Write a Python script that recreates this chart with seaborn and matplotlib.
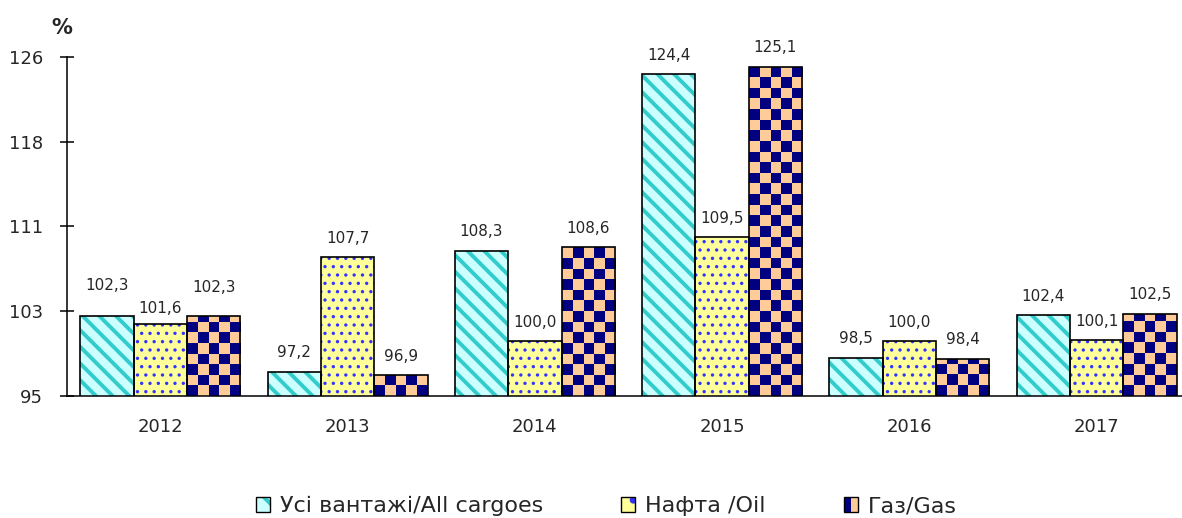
import numpy as np
import pandas as pd
import matplotlib
matplotlib.use("Agg")
import matplotlib.pyplot as plt
import seaborn as sns
from matplotlib.colors import ListedColormap
from matplotlib.patches import Patch
from matplotlib.legend_handler import HandlerTuple

# data
years = ["2012", "2013", "2014", "2015", "2016", "2017"]
series = ["Усі вантажі/All cargoes", "Нафта /Oil", "Газ/Gas"]
all_cargoes = [102.3, 97.2, 108.3, 124.4, 98.5, 102.4]
oil = [101.6, 107.7, 100.0, 109.5, 100.0, 100.1]
gas = [102.3, 96.9, 108.6, 125.1, 98.4, 102.5]
ytick_values = [95, 102.75, 110.5, 118.25, 126]
ytick_labels = ["95", "103", "111", "118", "126"]

# styles
bg_colors = ["#CCFFFF", "#FFFF99", "#FFCC99"]
hatch_colors = ["#33CCCC", "#3333FF", "#000080"]
hatches = ["\\\\", "..", None]
hatch_lws = [2.8, 1.2, None]
CHECK_PX = 10.6
YMIN, YMAX = 95, 126

sns.set_style("white")
plt.rcParams["font.family"] = ["DejaVu Sans"]
plt.rcParams["hatch.linewidth"] = 2.8

df = pd.DataFrame({
    "year": years * len(series),
    "value": all_cargoes + oil + gas,
    "series": [s for s in series for _ in years],
})

W, H = 1182, 518
fig = plt.figure(figsize=(W / 100, H / 100), dpi=100)
ax = fig.add_axes([66.75 / W, 1 - 396 / H, 1123.5 / W, 339 / H])

common = dict(data=df, x="year", y="value", hue="series", order=years,
              hue_order=series, width=0.855, gap=0, errorbar=None,
              legend=False, palette=bg_colors, saturation=1, ax=ax)
sns.barplot(**common, linewidth=0)
sns.barplot(**common, fill=False, linewidth=1.2)

ax.set_xlim(-0.5, 5.5)
ax.set_ylim(YMIN, YMAX)
px_x = ax.bbox.width / 6
px_y = ax.bbox.height / (YMAX - YMIN)

fill_conts = ax.containers[:3]
line_conts = ax.containers[3:6]

# patterned fills
for k, cont in enumerate(fill_conts):
    for bar in cont:
        bar.set_facecolor(bg_colors[k])
        bar.set_edgecolor(hatch_colors[k])
        bar.set_linewidth(0)
        bar.set_zorder(1)
        if hatches[k]:
            bar.set_hatch(hatches[k])
            if hasattr(bar, "set_hatch_linewidth"):
                bar.set_hatch_linewidth(hatch_lws[k])

checker = ListedColormap(["#000080", "#FFCC99"])
for bar in fill_conts[2]:
    x0, w, top = bar.get_x(), bar.get_width(), bar.get_height()
    nx = max(1, round(w * px_x / CHECK_PX))
    sq_y = CHECK_PX / px_y
    ny = int(np.ceil((top - YMIN) / sq_y))
    cells = np.indices((ny, nx)).sum(axis=0) % 2
    im = ax.imshow(cells, cmap=checker, extent=(x0, x0 + w, YMIN, YMIN + ny * sq_y),
                   origin="lower", aspect="auto", interpolation="nearest", zorder=1.5)
    im.set_clip_path(bar)

for cont in line_conts:
    for bar in cont:
        bar.set_edgecolor("black")
        bar.set_facecolor("none")
        bar.set_zorder(2)

# value labels (2012 labels sit a bit differently in the original)
label_lift = {(0, 0): 12, (1, 0): -4, (2, 0): 10}
values = [all_cargoes, oil, gas]
for k, cont in enumerate(line_conts):
    for j, bar in enumerate(cont):
        v = values[k][j]
        lift = 19 + label_lift.get((k, j), 0)
        ax.annotate(f"{v:.1f}".replace(".", ","),
                    (bar.get_x() + bar.get_width() / 2, v),
                    xytext=(0, lift * 0.72), textcoords="offset points",
                    ha="center", va="center", fontsize=11, zorder=3)

ax.set_xlim(-0.5, 5.5)
ax.set_ylim(YMIN, YMAX)
ax.set_xlabel("")
ax.set_ylabel("")
ax.set_yticks(ytick_values, ytick_labels)
ax.set_xticks(range(len(years)), years)
ax.set_xticks(np.arange(0.5, len(years) - 0.5, 1), minor=True)
ax.tick_params(axis="x", which="major", length=0, pad=15.5, labelsize=13)
ax.tick_params(axis="x", which="minor", direction="inout", length=8.6,
               width=1.1, color="black")
ax.tick_params(axis="y", direction="inout", length=10, width=1.1, pad=12,
               labelsize=13, color="black", left=True)
for side in ["top", "right"]:
    ax.spines[side].set_visible(False)
for side in ["left", "bottom"]:
    ax.spines[side].set_color("black")
    ax.spines[side].set_linewidth(1.1)
ax.grid(False)

fig.text(62 / W, 1 - 28 / H, "%", fontsize=15, fontweight="bold",
         ha="center", va="center")

# legend
hmap = {}
handles = []
for k in range(3):
    outline = Patch(facecolor="none", edgecolor="black", linewidth=1)
    if hatches[k]:
        fill = Patch(facecolor=bg_colors[k], edgecolor=hatch_colors[k],
                     linewidth=0, hatch="\\" if k == 0 else ".")
    else:
        halves = (Patch(facecolor="#000080", linewidth=0),
                  Patch(facecolor="#FFCC99", linewidth=0))
        hmap[halves] = HandlerTuple(ndivide=2, pad=0)
        fill = halves
    h = (fill, outline)
    hmap[h] = HandlerTuple(ndivide=1)
    handles.append(h)

fig.legend(handles, series, loc="center", bbox_to_anchor=(0.513, 0.023),
           ncol=3, frameon=False, fontsize=16, handlelength=0.63,
           handleheight=0.63, handletextpad=0.45, columnspacing=3.5,
           handler_map=hmap, borderaxespad=0, borderpad=0)

fig.savefig("out.png", dpi=100)
plt.close(fig)
